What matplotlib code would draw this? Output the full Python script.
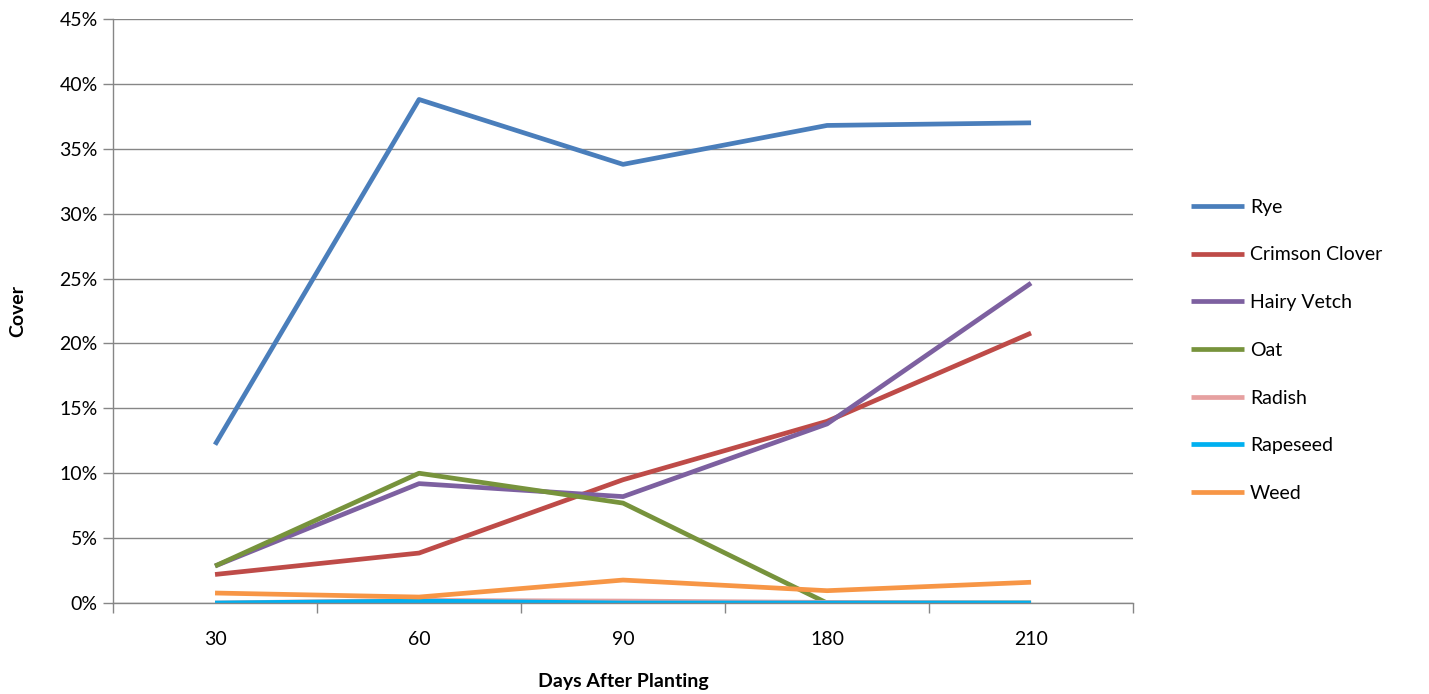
import numpy as np
import matplotlib.pyplot as plt
from matplotlib.ticker import FuncFormatter, FixedLocator

plt.rcParams['font.family'] = ['Lato', 'DejaVu Sans']

# Data (percent cover)
days = ['30', '60', '90', '180', '210']
rye = [12.2, 38.8, 33.8, 36.8, 37.0]
crimson_clover = [2.2, 3.85, 9.5, 14.0, 20.8]
hairy_vetch = [2.85, 9.2, 8.2, 13.8, 24.65]
oat = [2.85, 10.0, 7.7, 0.0, 0.0]
radish = [0.0, 0.2, 0.15, 0.05, 0.0]
rapeseed = [0.0, 0.15, 0.0, 0.0, 0.0]
weed = [0.77, 0.46, 1.77, 0.95, 1.6]

series = [
    ('Rye', rye, '#4A7EBB'),
    ('Crimson Clover', crimson_clover, '#BE4B48'),
    ('Hairy Vetch', hairy_vetch, '#7D60A0'),
    ('Oat', oat, '#77933C'),
    ('Radish', radish, '#E6A0A0'),
    ('Rapeseed', rapeseed, '#00B0F0'),
    ('Weed', weed, '#F79646'),
]

fig = plt.figure(figsize=(14.29, 6.94), dpi=100)
ax = fig.add_axes([0.0791, 0.1311, 0.7138, 0.8415])

x = np.arange(len(days))
for name, vals, col in series:
    ax.plot(x, vals, color=col, lw=3.4, label=name, solid_capstyle='butt')

ax.set_xlim(-0.5, len(days) - 0.5)
ax.set_ylim(0, 45)
ax.set_yticks(np.arange(0, 46, 5))
ax.yaxis.set_major_formatter(FuncFormatter(lambda v, p: f'{v:.0f}%'))
ax.grid(axis='y', color='#868686', lw=1)
ax.set_axisbelow(True)

ax.set_xticks(x)
ax.set_xticklabels(days)
ax.xaxis.set_minor_locator(FixedLocator(np.arange(-0.5, len(days), 1)))
ax.tick_params(axis='x', which='major', length=0, pad=20, labelsize=14)
ax.tick_params(axis='x', which='minor', length=7, color='#868686', width=1)
ax.tick_params(axis='y', length=7, color='#868686', width=1, labelsize=14, pad=4)

for s in ['top', 'right']:
    ax.spines[s].set_visible(False)
for s in ['left', 'bottom']:
    ax.spines[s].set_color('#868686')
    ax.spines[s].set_linewidth(1)

ax.set_xlabel('Days After Planting', fontsize=14, fontweight='bold', labelpad=18)
ax.set_ylabel('Cover', fontsize=14, fontweight='bold', labelpad=24)

fig.legend(loc='upper left', bbox_to_anchor=(0.8215, 0.739), frameon=False,
           fontsize=14, handlelength=2.7, handletextpad=0.3, labelspacing=1.58)

fig.savefig('out.png', dpi=100)
